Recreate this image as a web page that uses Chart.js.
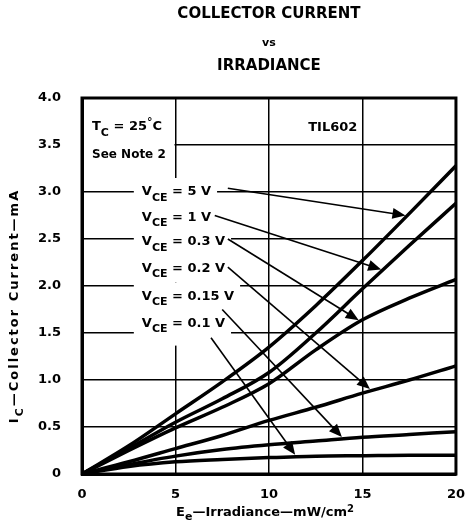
<!DOCTYPE html>
<html>
<head>
<meta charset="utf-8">
<script src="https://cdn.jsdelivr.net/npm/chart.js@4.4.1/dist/chart.umd.min.js"></script>
<style>
html, body { margin: 0; padding: 0; background: #fff; overflow: hidden; }
#wrap { width: 478px; height: 526px; }
</style>
</head>
<body>
<div id="wrap"><canvas id="icChart" width="478" height="526"></canvas></div>
<script>
// irradiance in mW/cm2, collector current in mA
const irradiance = [0, 2.5, 5, 7.5, 10, 12.5, 15, 17.5, 20];
const icVce5 = [0, 0.30, 0.64, 0.98, 1.35, 1.79, 2.27, 2.77, 3.28];
const icVce1 = [0, 0.27, 0.55, 0.80, 1.08, 1.50, 1.97, 2.43, 2.88];
const icVce03 = [0, 0.25, 0.49, 0.71, 0.96, 1.32, 1.64, 1.87, 2.07];
const icVce02 = [0, 0.13, 0.27, 0.41, 0.57, 0.71, 0.86, 1.00, 1.15];
const icVce015 = [0, 0.10, 0.19, 0.26, 0.31, 0.35, 0.39, 0.42, 0.45];
const icVce01 = [0, 0.08, 0.13, 0.155, 0.175, 0.19, 0.195, 0.20, 0.20];

const vceNames = ['5 V', '1 V', '0.3 V', '0.2 V', '0.15 V', '0.1 V'];
const xTickLabels = ['0', '5', '10', '15', '20'];
const yTickLabels = ['0', '0.5', '1.0', '1.5', '2.0', '2.5', '3.0', '3.5', '4.0'];

const allSeries = [icVce5, icVce1, icVce03, icVce02, icVce015, icVce01];

// where each V_CE label sits (data units) and where its arrow starts / points to
const callouts = [
    { lx: 3.2, ly: 3.00, sx: 7.8, sy: 3.04, tipX: 17.3 },
    { lx: 3.2, ly: 2.73, sx: 7.1, sy: 2.75, tipX: 16.0 },
    { lx: 3.2, ly: 2.47, sx: 7.8, sy: 2.50, tipX: 14.8 },
    { lx: 3.2, ly: 2.19, sx: 7.8, sy: 2.20, tipX: 15.4 },
    { lx: 3.2, ly: 1.89, sx: 7.5, sy: 1.75, tipX: 13.9 },
    { lx: 3.2, ly: 1.60, sx: 6.9, sy: 1.45, tipX: 11.4 }
];

const FONT = '"DejaVu Sans", "Liberation Sans", Arial, sans-serif';
function font(size) {
    return 'bold ' + size + 'px ' + FONT;
}

function richWidth(ctx, parts) {
    let w = 0;
    parts.forEach(p => {
        ctx.font = font(p.size);
        w += ctx.measureText(p.t).width;
    });
    return w;
}

function drawRich(ctx, parts, x, y) {
    ctx.textAlign = 'left';
    ctx.textBaseline = 'middle';
    parts.forEach(p => {
        ctx.font = font(p.size);
        ctx.fillText(p.t, x, y + (p.dy || 0));
        x += ctx.measureText(p.t).width;
    });
    return x;
}

function curveAt(series, x) {
    for (let i = 1; i < irradiance.length; i++) {
        if (x <= irradiance[i]) {
            const f = (x - irradiance[i - 1]) / (irradiance[i] - irradiance[i - 1]);
            return series[i - 1] + f * (series[i] - series[i - 1]);
        }
    }
    return series[series.length - 1];
}

function vceParts(name) {
    return [
        { t: 'V', size: 13 },
        { t: 'CE', size: 11, dy: 6 },
        { t: ' = ' + name, size: 13 }
    ];
}

const decorations = {
    id: 'decorations',
    beforeDraw(chart) {
        const ctx = chart.ctx;
        ctx.save();
        ctx.fillStyle = '#fff';
        ctx.fillRect(0, 0, chart.width, chart.height);
        ctx.restore();
    },
    beforeDatasetsDraw(chart) {
        const ctx = chart.ctx;
        const xs = chart.scales.x;
        const ys = chart.scales.y;
        ctx.save();

        // note box in the top-left corner
        const a = chart.chartArea;
        ctx.fillStyle = '#fff';
        ctx.fillRect(a.left + 2, ys.getPixelForValue(3.97), xs.getPixelForValue(5) - a.left - 3,
            ys.getPixelForValue(3.18) - ys.getPixelForValue(3.97));
        ctx.fillStyle = '#000';
        drawRich(ctx, [
            { t: 'T', size: 13 },
            { t: 'C', size: 11, dy: 6 },
            { t: ' = 25', size: 13 },
            { t: '°', size: 11, dy: -5 },
            { t: 'C', size: 13 }
        ], a.left + 10, 127);
        drawRich(ctx, [{ t: 'See Note 2', size: 12 }], a.left + 10, 155);
        drawRich(ctx, [{ t: 'TIL602', size: 13 }], xs.getPixelForValue(12.1), ys.getPixelForValue(3.68));

        // V_CE labels, each on a white patch that hides the grid behind it
        callouts.forEach((c, i) => {
            const parts = vceParts(vceNames[i]);
            const x0 = xs.getPixelForValue(c.lx);
            const yc = ys.getPixelForValue(c.ly);
            const w = richWidth(ctx, parts);
            const bottom = i === callouts.length - 1 ? 22 : 14;
            ctx.fillStyle = '#fff';
            ctx.fillRect(x0 - 8, yc - 14, w + 14, 14 + bottom);
        });
        callouts.forEach((c, i) => {
            ctx.fillStyle = '#000';
            drawRich(ctx, vceParts(vceNames[i]), xs.getPixelForValue(c.lx), ys.getPixelForValue(c.ly));
        });
        ctx.restore();
    },
    afterDatasetsDraw(chart) {
        const ctx = chart.ctx;
        const xs = chart.scales.x;
        const ys = chart.scales.y;
        const a = chart.chartArea;
        ctx.save();

        // arrows from labels to curves
        ctx.strokeStyle = '#000';
        ctx.fillStyle = '#000';
        ctx.lineWidth = 1.6;
        callouts.forEach((c, i) => {
            const x1 = xs.getPixelForValue(c.sx);
            const y1 = ys.getPixelForValue(c.sy);
            const x2 = xs.getPixelForValue(c.tipX);
            const y2 = ys.getPixelForValue(curveAt(allSeries[i], c.tipX)) - 2;
            const ang = Math.atan2(y2 - y1, x2 - x1);
            ctx.beginPath();
            ctx.moveTo(x1, y1);
            ctx.lineTo(x2 - 8 * Math.cos(ang), y2 - 8 * Math.sin(ang));
            ctx.stroke();
            ctx.beginPath();
            ctx.moveTo(x2, y2);
            ctx.lineTo(x2 - 13 * Math.cos(ang) + 5.5 * Math.sin(ang), y2 - 13 * Math.sin(ang) - 5.5 * Math.cos(ang));
            ctx.lineTo(x2 - 13 * Math.cos(ang) - 5.5 * Math.sin(ang), y2 - 13 * Math.sin(ang) + 5.5 * Math.cos(ang));
            ctx.closePath();
            ctx.fill();
        });

        // heavy frame
        ctx.lineWidth = 3;
        ctx.strokeRect(a.left, a.top, a.right - a.left, a.bottom - a.top);

        // titles
        const cx = (a.left + a.right) / 2;
        ctx.textAlign = 'center';
        ctx.textBaseline = 'middle';
        ctx.font = font(15);
        ctx.fillText('COLLECTOR CURRENT', cx, 14);
        ctx.font = font(11);
        ctx.fillText('vs', cx, 43);
        ctx.font = font(15);
        ctx.fillText('IRRADIANCE', cx, 66);

        // x axis title
        const xParts = [
            { t: 'E', size: 13 },
            { t: 'e', size: 11, dy: 4 },
            { t: '—Irradiance—mW/cm', size: 13 },
            { t: '2', size: 10, dy: -4 }
        ];
        drawRich(ctx, xParts, 265 - richWidth(ctx, xParts) / 2, 513);

        // y axis title, a little letter-spaced like the original
        const yParts = [
            { t: 'I', size: 13 },
            { t: 'C', size: 11, dy: 5 },
            { t: '—Collector Current—mA', size: 13 }
        ];
        ctx.letterSpacing = '2px';
        ctx.translate(15, 306);
        ctx.rotate(-Math.PI / 2);
        drawRich(ctx, yParts, -richWidth(ctx, yParts) / 2, 0);
        ctx.restore();
    }
};

const datasets = allSeries.map((s, i) => ({
    label: 'VCE = ' + vceNames[i],
    data: irradiance.map((x, j) => ({ x: x, y: s[j] })),
    borderColor: '#000',
    borderWidth: 3.5,
    pointRadius: 0,
    fill: false,
    cubicInterpolationMode: 'monotone'
}));

new Chart(document.getElementById('icChart').getContext('2d'), {
    type: 'line',
    data: { datasets: datasets },
    options: {
        responsive: false,
        animation: false,
        layout: { padding: { top: 98, right: 17, left: 0, bottom: 0 } },
        plugins: {
            legend: { display: false },
            tooltip: { enabled: false }
        },
        scales: {
            x: {
                type: 'linear',
                min: 0,
                max: 20,
                afterFit: scale => { scale.height = 52; },
                ticks: {
                    stepSize: 5,
                    padding: 13,
                    color: '#000',
                    font: { family: FONT, size: 13, weight: 'bold' },
                    callback: (v, i) => xTickLabels[i]
                },
                grid: { color: '#000', lineWidth: 1.5, drawTicks: false },
                border: { color: '#000', width: 3 }
            },
            y: {
                type: 'linear',
                min: 0,
                max: 4,
                afterFit: scale => { scale.width = 82; },
                ticks: {
                    stepSize: 0.5,
                    padding: 21,
                    color: '#000',
                    font: { family: FONT, size: 13, weight: 'bold' },
                    callback: (v, i) => yTickLabels[i]
                },
                grid: { color: '#000', lineWidth: 1.5, drawTicks: false },
                border: { color: '#000', width: 3 }
            }
        }
    },
    plugins: [decorations]
});
</script>
</body>
</html>
